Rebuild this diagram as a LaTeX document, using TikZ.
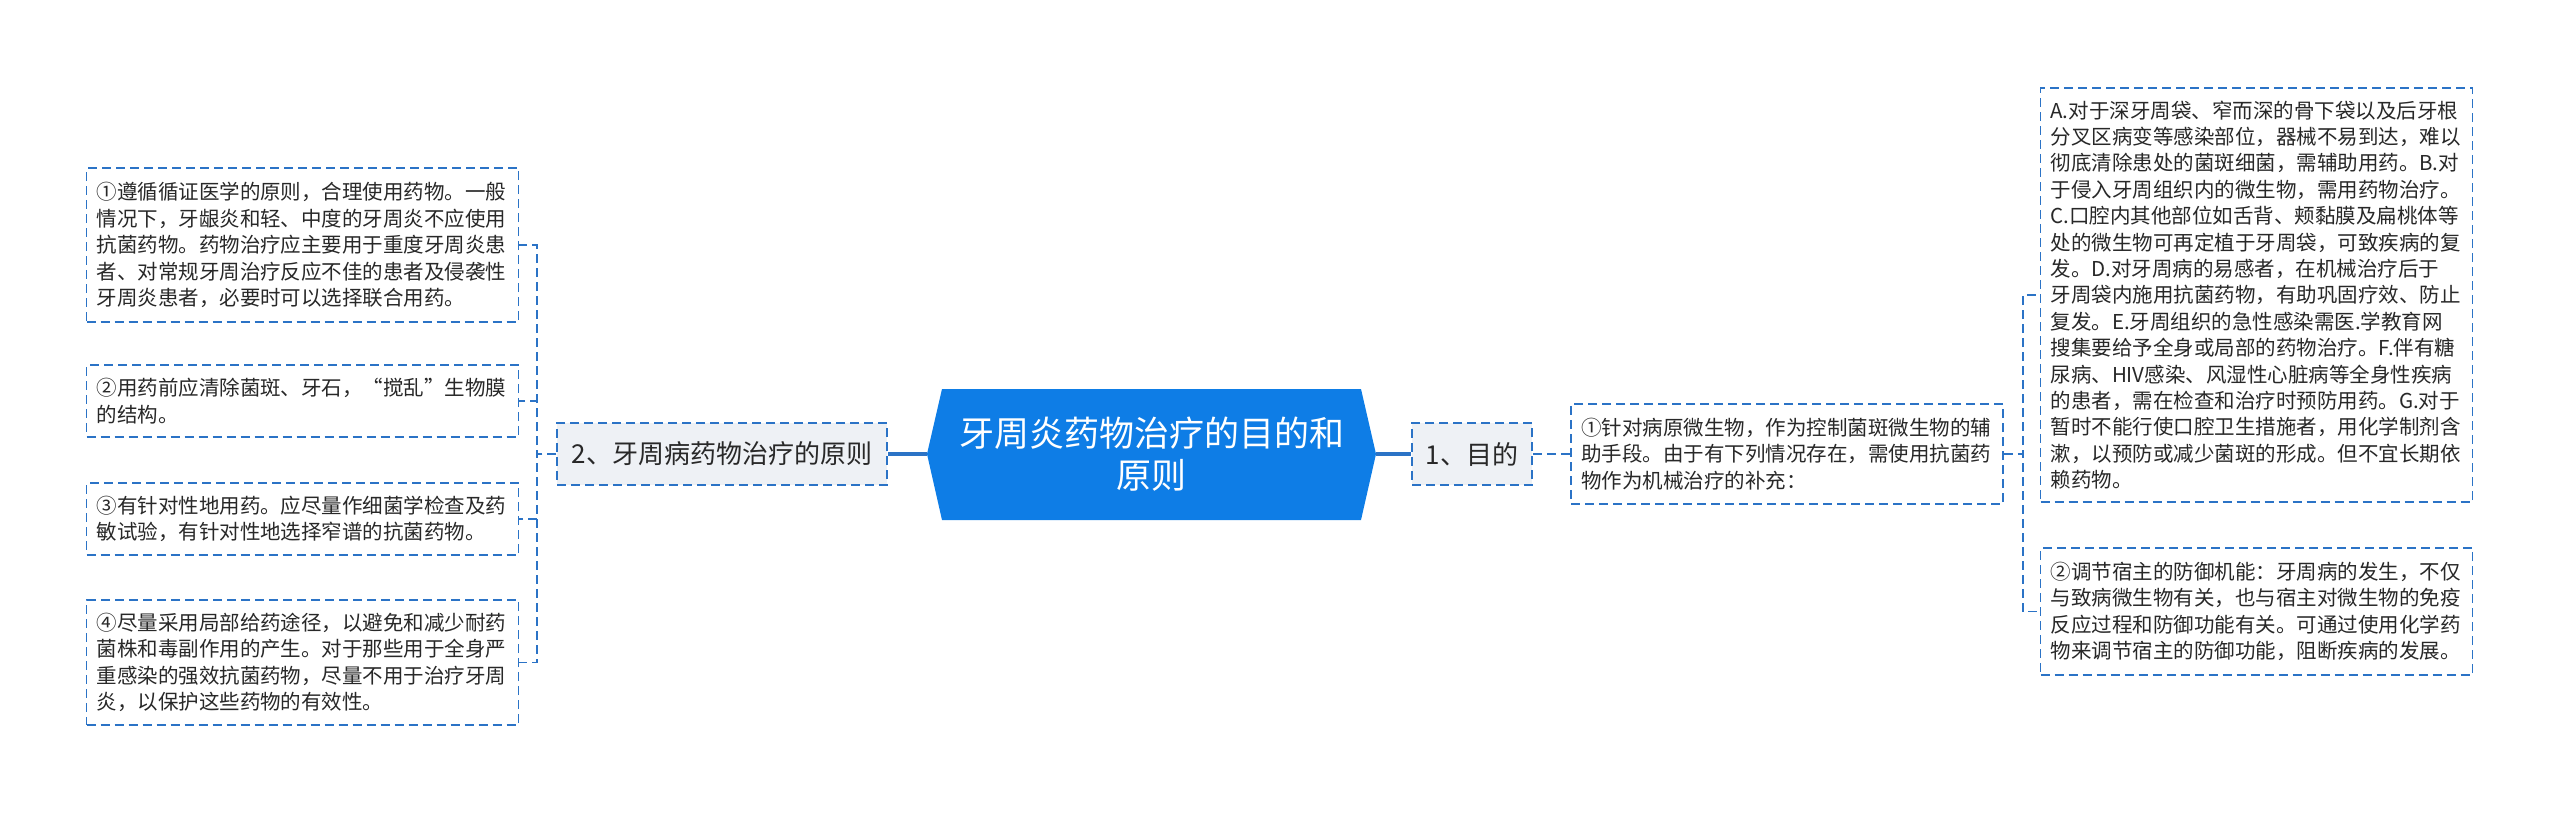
\documentclass[tikz,border=0pt]{standalone}
\usepackage{fontspec}
\newfontfamily\cjk{Noto Sans CJK SC}
\definecolor{linecol}{RGB}{43,115,198}
\definecolor{rootcol}{RGB}{14,125,230}
\definecolor{subfill}{RGB}{238,241,245}
\definecolor{txtcol}{RGB}{40,40,40}

\begin{document}
\begin{tikzpicture}[x=0.5pt,y=0.5pt,yscale=-1,
  leaf/.style={draw=linecol,line width=0.9pt,dash pattern=on 4.5pt off 2.5pt,fill=white,text=txtcol,
    text width=206pt,align=left,inner xsep=5pt,inner ysep=0pt,minimum width=216pt,
    font=\cjk\fontsize{10.25pt}{13.2pt}\selectfont},
  sub/.style={draw=linecol,line width=0.9pt,dash pattern=on 4.5pt off 2.5pt,fill=subfill,text=txtcol,
    inner sep=0pt,minimum height=31pt,font=\cjk\fontsize{13pt}{15pt}\selectfont},
  link/.style={draw=linecol,line width=0.9pt,dash pattern=on 4.5pt off 2.5pt},
  trunk/.style={draw=linecol,line width=1.6pt}]
\useasboundingbox (0,0) rectangle (2560,814);

%Shape: Hexagon [root]
\fill[rootcol] (942,389) -- (1361,389) -- (1376,454) -- (1361,520) -- (942,520) -- (927,454) -- cycle;
\node[inner sep=0pt,minimum width=224.5pt,minimum height=65.5pt,align=center,text=white,
  font=\cjk\fontsize{17.5pt}{21pt}\selectfont] (root) at (1151.5,454) {牙周炎药物治疗的目的和\\原则};

% Main branches
\node[sub,minimum width=165pt] (prin) at (722,454) {2、牙周病药物治疗的原则};
\node[sub,minimum width=60pt] (aim) at (1472,454) {1、目的};

% Left leaves
\node[leaf,minimum height=77pt] (prinA) at (302.5,245) {①遵循循证医学的原则，合理使用药物。一般\\情况下，牙龈炎和轻、中度的牙周炎不应使用\\抗菌药物。药物治疗应主要用于重度牙周炎患\\者、对常规牙周治疗反应不佳的患者及侵袭性\\牙周炎患者，必要时可以选择联合用药。};
\node[leaf,minimum height=36pt] (prinB) at (302.5,401) {②用药前应清除菌斑、牙石，“搅乱”生物膜\\的结构。};
\node[leaf,minimum height=36pt] (prinC) at (302.5,519) {③有针对性地用药。应尽量作细菌学检查及药\\敏试验，有针对性地选择窄谱的抗菌药物。};
\node[leaf,minimum height=62.5pt] (prinD) at (302.5,662.5) {④尽量采用局部给药途径，以避免和减少耐药\\菌株和毒副作用的产生。对于那些用于全身严\\重感染的强效抗菌药物，尽量不用于治疗牙周\\炎，以保护这些药物的有效性。};

% Right leaves
\node[leaf,minimum height=50pt] (aimA) at (1787,454) {①针对病原微生物，作为控制菌斑微生物的辅\\助手段。由于有下列情况存在，需使用抗菌药\\物作为机械治疗的补充：};
\node[leaf,minimum height=207pt] (aimAA) at (2256.5,295) {A.对于深牙周袋、窄而深的骨下袋以及后牙根\\分叉区病变等感染部位，器械不易到达，难以\\彻底清除患处的菌斑细菌，需辅助用药。B.对\\于侵入牙周组织内的微生物，需用药物治疗。\\C.口腔内其他部位如舌背、颊黏膜及扁桃体等\\处的微生物可再定植于牙周袋，可致疾病的复\\发。D.对牙周病的易感者，在机械治疗后于\\牙周袋内施用抗菌药物，有助巩固疗效、防止\\复发。E.牙周组织的急性感染需医.学教育网\\搜集要给予全身或局部的药物治疗。F.伴有糖\\尿病、HIV感染、风湿性心脏病等全身性疾病\\的患者，需在检查和治疗时预防用药。G.对于\\暂时不能行使口腔卫生措施者，用化学制剂含\\漱，以预防或减少菌斑的形成。但不宜长期依\\赖药物。};
\node[leaf,minimum height=63.5pt] (aimB) at (2256.5,611.5) {②调节宿主的防御机能：牙周病的发生，不仅\\与致病微生物有关，也与宿主对微生物的免疫\\反应过程和防御功能有关。可通过使用化学药\\物来调节宿主的防御功能，阻断疾病的发展。};

% Connectors
\draw[trunk] (root.west) -- (prin.east);
\draw[trunk] (root.east) -- (aim.west);
\draw[link] (aim.east) -- (aimA.west);
\foreach \n in {aimAA,aimB}
  \draw[link] (aimA.east) -- ++(19,0) |- (\n.west);
\foreach \n in {prinA,prinB,prinC,prinD}
  \draw[link] (prin.west) -- ++(-19,0) |- (\n.east);

\end{tikzpicture}
\end{document}
